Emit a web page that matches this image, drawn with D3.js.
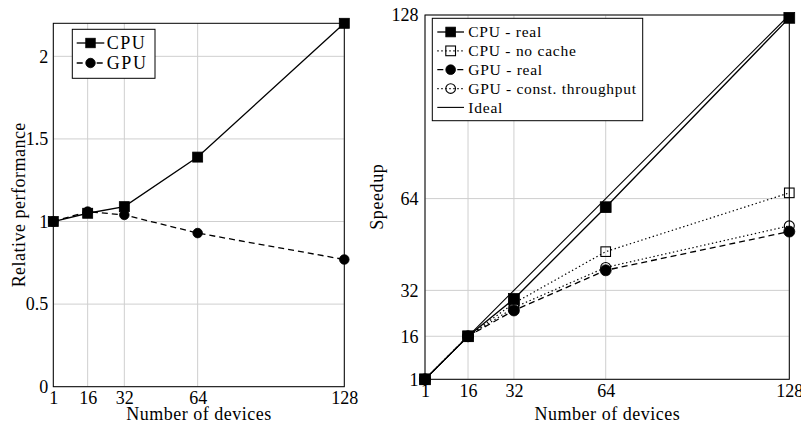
<!DOCTYPE html>
<html>
<head>
<meta charset="utf-8">
<script src="https://cdn.jsdelivr.net/npm/d3@7"></script>
<style>
  html, body { margin: 0; padding: 0; background: #fff; }
  svg { display: block; }
  text { font-family: "Liberation Serif", "DejaVu Serif", serif; fill: #000; }
</style>
</head>
<body>
<svg id="chart" width="801" height="423"></svg>
<script>
// ---------- data ----------
const devices = [1, 16, 32, 64, 128];
const xTicks = [1, 16, 32, 64, 128];

// left chart: relative performance
const relCPU = [1, 1.05, 1.09, 1.39, 2.2];
const relGPU = [1, 1.06, 1.04, 0.93, 0.77];
const relYTicks = [0, 0.5, 1, 1.5, 2];
const relYTickLabels = ["0", "0.5", "1", "1.5", "2"];

// right chart: speedup
const spCPUreal = [1, 16, 29, 61, 127];
const spCPUnoCache = [1, 16, 27.5, 45.5, 66];
const spGPUreal = [1, 16, 25, 39, 52.5];
const spGPUconst = [1, 16, 26, 40, 54.5];
const spIdeal = [1, 16, 32, 64, 128];
const spYTicks = [1, 16, 32, 64, 128];

const leftLegend = ["CPU", "GPU"];
const rightLegend = ["CPU - real", "CPU - no cache", "GPU - real", "GPU - const. throughput", "Ideal"];

// ---------- drawing ----------
const svg = d3.select("#chart");
const GRID = "#cfcfcf";
const FONT = "'Liberation Serif', 'DejaVu Serif', serif";

function fitText(sel, factor) {
  sel.each(function () {
    const w = this.getComputedTextLength();
    d3.select(this).attr("textLength", w * factor).attr("lengthAdjust", "spacing");
  });
}

function marker(g, type, x, y, size) {
  if (type === "sqFill" || type === "sqOpen") {
    g.append("rect")
      .attr("x", x - size / 2).attr("y", y - size / 2)
      .attr("width", size).attr("height", size)
      .attr("fill", type === "sqFill" ? "#000" : "none")
      .attr("stroke", "#000").attr("stroke-width", type === "sqFill" ? 0.8 : 1.1);
  } else if (type === "cFill" || type === "cOpen") {
    g.append("circle")
      .attr("cx", x).attr("cy", y).attr("r", size / 2)
      .attr("fill", type === "cFill" ? "#000" : "none")
      .attr("stroke", "#000").attr("stroke-width", type === "cFill" ? 0.8 : 1.1);
  }
}

function panel(cfg) {
  const g = svg.append("g");
  const x = d3.scaleLinear().domain([1, 128]).range([cfg.x0, cfg.x1]);
  const y = d3.scaleLinear().domain(cfg.yDomain).range([cfg.y0, cfg.y1]);

  // grid
  g.append("g").selectAll("line").data(xTicks).join("line")
    .attr("x1", d => x(d)).attr("x2", d => x(d))
    .attr("y1", cfg.y0).attr("y2", cfg.y1)
    .attr("stroke", GRID).attr("stroke-width", 1);
  g.append("g").selectAll("line").data(cfg.yTicks).join("line")
    .attr("x1", cfg.x0).attr("x2", cfg.x1)
    .attr("y1", d => y(d)).attr("y2", d => y(d))
    .attr("stroke", GRID).attr("stroke-width", 1);

  // axes (labels only; frame drawn separately)
  const ax = g.append("g").attr("transform", `translate(0,${cfg.y0})`)
    .call(d3.axisBottom(x).tickValues(xTicks).tickSize(0).tickPadding(5).tickFormat(d3.format("d")));
  ax.select(".domain").remove();
  ax.attr("font-family", FONT).attr("font-size", 18);
  ax.selectAll("text").style("font-family", FONT).style("font-size", "18px").attr("fill", "#000");

  const ay = g.append("g").attr("transform", `translate(${cfg.x0},0)`)
    .call(d3.axisLeft(y).tickValues(cfg.yTicks).tickSize(0).tickPadding(cfg.yPad)
      .tickFormat((d, i) => cfg.yTickLabels[i]));
  ay.select(".domain").remove();
  ay.attr("font-family", FONT).attr("font-size", 18);
  ay.selectAll("text").style("font-family", FONT).style("font-size", "18px").attr("fill", "#000");

  // series
  cfg.series.forEach(s => {
    const line = d3.line().x((d, i) => x(devices[i])).y(d => y(d));
    g.append("path").datum(s.values)
      .attr("d", line)
      .attr("fill", "none").attr("stroke", "#000")
      .attr("stroke-width", s.width || 1.2)
      .attr("stroke-dasharray", s.dash || null);
    if (s.marker) {
      const mg = g.append("g");
      s.values.forEach((v, i) => marker(mg, s.marker, x(devices[i]), y(v), s.msize));
    }
  });

  // frame
  g.append("rect")
    .attr("x", cfg.x0).attr("y", cfg.y1)
    .attr("width", cfg.x1 - cfg.x0).attr("height", cfg.y0 - cfg.y1)
    .attr("fill", "none").attr("stroke", "#000").attr("stroke-width", 1);

  // axis titles
  g.append("text")
    .attr("x", (cfg.x0 + cfg.x1) / 2).attr("y", cfg.xLabelY)
    .attr("text-anchor", "middle").style("font-family", FONT).style("font-size", "18px")
    .text("Number of devices").call(fitText, 1.06);
  g.append("text")
    .attr("transform", `translate(${cfg.yLabelX},${cfg.yLabelCY}) rotate(-90)`)
    .attr("text-anchor", "middle").style("font-family", FONT).style("font-size", "18px")
    .text(cfg.yLabel).call(fitText, 1.06);

  // legend
  const L = cfg.legend;
  const lg = g.append("g");
  lg.append("rect")
    .attr("x", L.x).attr("y", L.y).attr("width", L.w).attr("height", L.h)
    .attr("fill", "#fff").attr("stroke", "#000").attr("stroke-width", 1);
  cfg.series.forEach((s, i) => {
    const cy = L.firstY + i * L.step;
    lg.append("line")
      .attr("x1", L.lx0).attr("x2", L.lx1).attr("y1", cy).attr("y2", cy)
      .attr("stroke", "#000").attr("stroke-width", s.width || 1.2)
      .attr("stroke-dasharray", s.dash || null);
    if (s.marker) marker(lg, s.marker, (L.lx0 + L.lx1) / 2, cy, L.msize);
    lg.append("text")
      .attr("x", L.tx).attr("y", cy).attr("dy", "0.35em")
      .style("font-family", FONT).style("font-size", L.fs + "px")
      .text(L.labels[i]).call(fitText, L.factor);
  });
}

// left panel
panel({
  x0: 53.3, x1: 344.3, y0: 386.7, y1: 23.3,
  yDomain: [0, 2.2], yTicks: relYTicks, yTickLabels: relYTickLabels, yPad: 5,
  yLabel: "Relative performance", yLabelX: 25, yLabelCY: 205,
  xLabelY: 419.5,
  series: [
    { values: relCPU, marker: "sqFill", msize: 10, width: 1.3 },
    { values: relGPU, marker: "cFill", msize: 9.6, width: 1.3, dash: "6,4" }
  ],
  legend: {
    x: 72.3, y: 29.3, w: 82.7, h: 49, firstY: 43, step: 20,
    lx0: 76.7, lx1: 104.3, tx: 106.7, msize: 9.5, fs: 18, factor: 1.09,
    labels: leftLegend
  }
});

// right panel
panel({
  x0: 425, x1: 789.3, y0: 379.3, y1: 15,
  yDomain: [1, 128], yTicks: spYTicks, yTickLabels: spYTicks.map(String), yPad: 6.5,
  yLabel: "Speedup", yLabelX: 382.5, yLabelCY: 197,
  xLabelY: 419.5,
  series: [
    { values: spCPUreal, marker: "sqFill", msize: 10.8, width: 1.3 },
    { values: spCPUnoCache, marker: "sqOpen", msize: 9.6, width: 1.2, dash: "1.4,2.6" },
    { values: spGPUreal, marker: "cFill", msize: 11, width: 1.3, dash: "6,4" },
    { values: spGPUconst, marker: "cOpen", msize: 10, width: 1.2, dash: "1.4,2.6" },
    { values: spIdeal, width: 1.1 }
  ],
  legend: {
    x: 432.3, y: 18.3, w: 210.4, h: 102.4, firstY: 32, step: 18.85,
    lx0: 437.3, lx1: 464, tx: 468.3, msize: 9.7, fs: 15.5, factor: 1.1,
    labels: rightLegend
  }
});
</script>
</body>
</html>
